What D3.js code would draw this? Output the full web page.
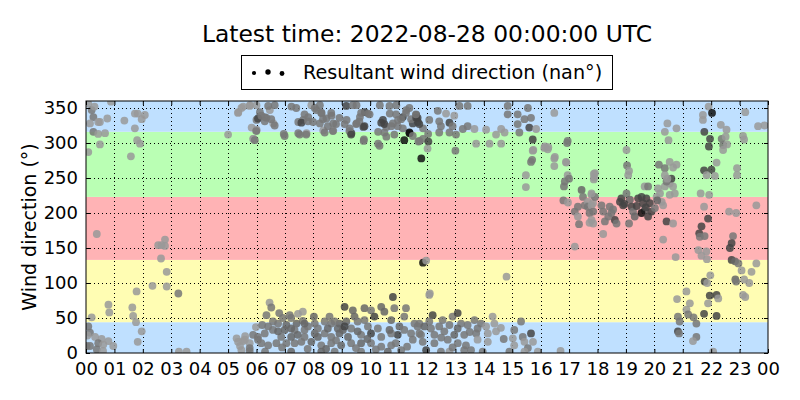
<!DOCTYPE html>
<html lang="en">
<head>
<meta charset="UTF-8">
<title>Wind direction</title>
<style>
  body { margin: 0; background: #fff; }
  svg { font-family: "DejaVu Sans", sans-serif; }
</style>
</head>
<body>
<div id="wrapper"></div>
<script src="https://cdn.jsdelivr.net/npm/d3@7"></script>
<script>
// readings: [hour of day, direction in degrees, wind speed (shown as grey)]
const nightPts = [
  [0.08,356,2],[0.2,347,4],[0.3,352,2],[0.26,337,4],[0.43,330,2],[0.49,330,2],[0.14,328,2],[0.26,316,4],
  [0.43,313,2],[0.67,314,2],[0.75,335,2],[0.49,298,2],[0.08,287,2],[0.88,359,2],[1.35,332,2],[1.72,342,2],
  [1.82,342,2],[2.07,340,2],[1.96,334,2],[1.72,321,2],[1.8,304,2],[1.9,299,2],[1.58,281,2],[0.38,170,2],
  [2.54,154,2],[2.66,154,2],[2.78,162,2],[2.78,153,2],[2.64,135,2],[2.84,116,2],[2.34,96,2],[2.84,95,2],
  [3.25,85,4],[1.78,88,2],[0.79,69,2],[0.82,58,2],[1.63,65,2],[1.66,53,2],[1.76,44,2],[1.96,31,2],
  [1.82,16,2],[0.2,51,2],[0.08,38,4],[0.14,29,4],[0.32,23,2],[0.55,20,2],[0.79,17,2],[0.43,14,4],
  [0.96,10,2],[0.14,10,4],[0.38,5,4],[3.27,2,2],[3.54,2,2],[0.02,10,4],[0.61,12,2],[0.05,25,2],[0.6,3,2]
];
const dawnPts = [
  [5.0,312,2],[5.36,344,2],[5.53,352,2],[5.77,354,2],[5.88,306,2],[5.83,322,2],[6.0,318,2],[5.98,37,2],
  [5.3,21,2],[5.53,17,2],[5.6,24,2],[5.76,14,2],[5.88,26,4],[5.42,10,2],[5.76,7,4],[6.05,19,4],
  [5.47,350,2],[5.76,353,2],[5.35,343,2],[5.59,19,2],[5.35,16,2],[5.47,4,2],[5.76,3,4]
];
const morningTop = [
  [6.0,354,2],[6.12,344,4],[6.0,333,4],[6.29,337,4],[6.47,347,2],[6.64,354,4],[6.59,328,2],[6.0,319,2],
  [5.9,306,2],[6.96,313,4],[7.23,352,4],[7.47,330,4],[7.64,333,4],[7.82,337,4],[7.93,354,2],[8.11,347,4],
  [8.29,343,4],[8.46,335,4],[8.64,339,4],[8.23,354,4],[7.47,314,4],[7.76,314,2],[8.35,318,2],[8.7,318,2],
  [8.23,328,4],[8.7,328,4],[9.17,333,4],[9.34,314,7],[9.52,354,4],[9.64,337,4],[9.81,344,7],[9.76,323,7],
  [9.93,342,4],[9.78,305,4],[9.52,328,4],[9.28,321,4],[10.34,354,4],[10.45,333,7],[10.57,323,4],[10.28,316,4],
  [10.57,309,4],[10.69,342,4],[10.8,328,4],[10.92,354,4],[10.98,333,4],[11.15,337,7],[11.15,321,4],[11.39,314,10],
  [11.2,304,10],[11.5,328,7],[11.68,330,7],[11.86,321,4],[11.8,278,10],[10.28,299,4],[11.27,347,4],[11.62,340,7],
  [11.86,306,4],[12.04,313,4],[6.05,335,7],[6.17,339,4],[6.35,336,4],[6.52,334,4],[5.99,317,4],[5.94,304,4],
  [6.64,325,4],[6.29,331,4],[6.41,353,4],[6.99,310,4],[7.4,350,4],[7.69,341,4],[7.58,329,7],[7.81,331,4],
  [7.99,330,4],[8.05,350,4],[8.28,343,4],[8.34,334,4],[8.51,324,4],[8.69,317,4],[8.4,315,4],[7.52,312,4],
  [7.75,312,4],[8.63,343,4],[8.8,327,4],[9.1,327,4],[8.92,336,4],[9.16,353,7],[9.39,354,4],[9.27,317,4],
  [9.33,312,7],[9.51,327,4],[9.68,343,4],[9.62,331,4],[9.8,324,7],[9.98,341,4],[9.77,303,4],[10.39,329,7],
  [10.68,353,4],[10.5,327,7],[10.74,324,4],[10.85,312,4],[10.91,341,4],[10.5,315,4],[10.33,296,4],[11.38,350,4],
  [11.26,343,4],[11.44,334,4],[11.62,336,7],[11.38,315,10],[11.5,310,4],[11.73,303,4],[10.97,324,4],[11.09,334,4],
  [11.86,129,10],[11.97,132,2]
];
const morningLow = [
  [6.46,72,2],[6.52,65,4],[6.8,57,4],[6.35,54,4],[7.17,54,4],[7.46,56,2],[7.63,59,2],[7.22,50,4],
  [6.93,50,4],[7.63,46,4],[6.58,45,4],[6.76,42,4],[7.41,42,5],[7.05,40,5],[8.02,52,5],[8.05,42,4],
  [7.81,38,4],[8.4,45,4],[8.63,42,4],[8.92,42,5],[9.1,66,7],[9.39,61,5],[9.45,52,5],[9.56,45,4],
  [9.8,64,5],[10.03,61,4],[10.39,66,5],[10.5,59,5],[10.8,80,7],[10.85,64,4],[11.26,64,4],[11.2,52,4],
  [10.15,52,7],[9.8,47,4],[10.74,47,5],[11.03,38,5],[10.97,26,7],[10.03,28,7],[9.04,33,5],[8.86,35,5],
  [8.4,28,4],[8.05,28,5],[7.69,33,4],[7.34,33,4],[6.99,33,5],[6.58,33,4],[6.29,28,4],[6.05,23,4],
  [6.17,14,4],[6.41,11,4],[6.7,14,4],[7.05,14,4],[7.34,14,4],[7.58,16,4],[7.93,16,5],[8.28,11,4],
  [8.63,14,4],[8.98,11,5],[9.33,14,4],[9.68,14,5],[10.03,14,4],[10.39,9,4],[10.74,11,4],[11.09,4,4],
  [11.5,19,4],[11.73,28,4],[11.56,42,4],[11.67,38,4],[7.22,2,5],[8.28,2,5],[8.75,2,4],[9.68,2,4],
  [10.62,2,5],[6.87,23,4],[7.22,23,5],[7.69,23,4],[8.16,23,5],[8.63,23,4],[9.22,23,5],[9.68,26,4],
  [10.39,23,4],[10.74,28,4],[11.44,28,4],[6.41,38,4],[6.76,31,5],[7.22,35,5],[8.16,35,4],[8.51,35,5],
  [8.92,28,5],[9.33,35,4],[9.56,31,5],[9.92,38,4],[10.27,35,4],[10.68,33,5],[11.2,33,4],[8.57,52,4],
  [7.69,42,5],[8.75,45,4],[9.16,45,5],[9.1,38,7],[6.2,40,4],[6.9,8,4],[7.8,6,4],[8.45,6,5],
  [9.5,7,4],[10.2,5,4],[10.9,14,4],[11.3,9,4],[6.3,2,4],[9.9,20,5],[8.8,18,4],[7.45,26,5]
];
const afternoonLow = [
  [12.08,83,2],[12.2,54,7],[12.08,45,4],[12.55,47,4],[12.9,52,4],[13.08,57,7],[13.2,42,4],[13.67,47,4],
  [13.9,42,4],[14.31,52,2],[14.37,42,2],[11.73,42,4],[11.91,38,5],[12.14,35,4],[12.43,38,4],[12.79,40,4],
  [13.08,35,5],[13.43,40,4],[13.78,35,4],[14.08,38,2],[14.43,31,2],[11.79,26,4],[12.26,26,4],[12.61,31,4],
  [12.96,26,5],[13.31,26,4],[13.73,28,4],[14.14,28,2],[11.85,16,4],[12.26,14,4],[12.73,19,4],[13.08,14,4],
  [13.37,11,4],[13.78,19,2],[14.14,16,2],[11.97,4,7],[12.49,2,4],[12.79,2,2],[13.31,4,4],[13.55,4,4],
  [13.96,2,4],[14.9,2,4],[15.31,45,4],[15.07,33,4],[15.02,21,2],[15.37,23,4],[15.66,28,7],[15.43,16,2],
  [15.73,16,2],[15.55,7,4],[15.07,11,2],[15.43,2,2],[15.9,2,2],[16.7,3,2],[14.8,109,2],[12.1,85,2],
  [12.5,22,4],[13.5,30,4],[14.6,36,2],[14.7,20,4],[12.9,8,4]
];
const afternoonTop = [
  [11.67,336,7],[11.73,327,7],[11.61,341,4],[12.08,333,4],[12.38,346,4],[12.67,342,2],[12.96,339,2],[12.43,331,4],
  [12.49,324,4],[12.79,329,7],[12.9,324,4],[12.43,315,4],[12.79,315,4],[13.02,312,4],[13.14,353,4],[13.43,353,4],
  [13.26,320,4],[13.43,324,4],[13.67,320,2],[14.08,319,2],[14.43,312,2],[14.61,320,2],[14.73,315,2],[14.84,341,4],
  [14.84,353,4],[15.19,341,4],[15.19,327,4],[15.25,315,4],[15.43,334,4],[15.55,350,4],[15.6,322,7],[15.66,336,4],
  [15.72,305,7],[15.84,320,2],[16.48,343,2],[11.7,302,4],[12.05,302,7],[12.02,292,2],[13.0,289,4],[13.73,299,2],
  [14.2,299,2],[14.61,299,2],[15.72,289,2],[16.13,293,2],[16.25,291,2],[16.93,300,4],[15.66,273,4],[16.48,278,2],
  [16.9,272,2],[15.48,254,2],[15.48,237,2],[15.74,290,2],[15.7,276,4],[16.15,295,2],[16.27,294,2],[16.5,280,2],
  [16.48,267,2],[16.89,273,2]
];
const eveningPts = [
  [16.95,254,2],[17.0,249,4],[16.85,245,4],[16.82,238,4],[16.95,303,4],[17.44,233,5],[17.87,256,2],[17.87,248,2],
  [16.8,218,4],[16.96,215,2],[17.2,202,4],[17.31,209,4],[17.49,223,4],[17.55,211,4],[17.66,216,2],[17.72,200,4],
  [17.31,195,2],[17.72,186,2],[17.35,184,4],[17.2,152,2],[17.66,209,4],[17.84,214,2],[17.79,226,2],[17.91,223,4],
  [17.79,211,2],[17.85,202,4],[17.79,190,2],[17.85,185,2],[18.14,211,4],[18.2,202,4],[18.26,188,4],[18.2,170,2],
  [18.43,209,4],[18.49,200,4],[18.61,190,7],[18.67,185,4],[18.38,195,4],[18.79,216,7],[18.84,221,7],[18.9,211,7],
  [19.02,228,4],[19.14,219,5],[19.2,209,7],[19.25,202,4],[19.11,185,4],[19.31,195,5],[19.43,221,7],[19.55,223,7],
  [19.6,214,7],[19.66,204,5],[19.55,200,10],[19.72,221,7],[19.84,214,7],[19.9,202,7],[19.78,195,7],[20.02,207,4],
  [20.08,223,2],[20.2,228,2],[20.26,216,2],[20.31,211,2],[20.43,188,7],[20.66,185,2],[20.31,162,2],[19.66,238,2],
  [19.78,238,4],[20.13,235,2],[20.37,238,2],[20.54,242,2],[20.6,249,7],[20.66,238,2],[20.72,228,2],[20.54,226,2],
  [20.43,245,4],[20.54,273,2],[20.66,265,2],[20.78,269,2],[20.37,264,4],[20.16,269,4],[20.37,254,2],[20.46,249,2],
  [19.02,290,2],[19.04,268,4],[19.11,260,2],[19.08,254,2],[17.91,257,2],[17.88,251,2],[17.79,228,2],[20.46,328,2],
  [20.37,316,2],[20.5,304,2],[20.78,321,2],[18.95,213,7],[19.38,210,7],[19.7,208,7],[18.55,205,4],[20.1,218,5]
];
const latePts = [
  [21.63,228,2],[21.93,226,2],[21.75,209,2],[21.89,192,7],[21.66,181,7],[21.58,171,7],[21.6,166,4],[21.77,167,4],
  [21.83,145,2],[21.55,147,2],[21.66,139,2],[21.85,134,2],[21.77,102,7],[21.97,111,2],[21.95,82,7],[22.19,83,7],
  [22.25,78,2],[22.19,53,7],[21.75,56,7],[21.13,88,2],[21.25,71,2],[21.13,62,2],[20.83,52,4],[20.89,45,4],
  [21.19,55,4],[21.38,51,4],[21.48,42,4],[20.8,77,2],[20.83,31,7],[20.87,28,4],[21.48,23,4],[21.36,17,2],
  [22.07,2,2],[21.91,352,2],[22.03,343,10],[21.71,340,2],[21.71,333,2],[22.34,326,2],[22.54,319,2],[21.76,316,7],
  [21.96,306,7],[21.92,295,7],[22.37,306,4],[22.42,297,4],[22.51,309,2],[22.56,298,2],[22.42,290,2],[22.19,272,2],
  [21.75,261,7],[22.01,262,7],[21.84,254,2],[22.13,253,2],[23.12,310,2],[23.16,305,2],[23.2,344,2],[22.91,264,2],
  [22.91,254,2],[23.59,211,2],[22.63,202,2],[22.88,200,2],[22.77,167,4],[22.72,157,7],[22.66,150,7],[22.72,133,7],
  [22.84,131,5],[22.96,128,4],[23.07,118,2],[22.85,105,5],[22.88,102,4],[23.16,105,2],[23.34,100,2],[23.42,116,2],
  [23.59,128,2],[23.12,83,2],[23.65,324,2],[23.88,325,2],[20.75,137,2],[21.86,100,2],[21.89,71,2],[23.2,80,2]
];

const hourLabels = ["00","01","02","03","04","05","06","07","08","09","10","11",
                    "12","13","14","15","16","17","18","19","20","21","22","23","00"];
const dirTicks = [0, 50, 100, 150, 200, 250, 300, 350];
// compass sectors drawn behind the points
const sectorEdges = [0, 44, 133, 223, 316, 360];
const sectorColors = ["#bfe0ff", "#fffdb3", "#ffb3b5", "#baffb4", "#bfe0ff"];

const width = 800, height = 400;
const plot = { left: 86, right: 768, top: 101, bottom: 353 };

const svg = d3.select('#wrapper').append('svg')
    .attr('width', width)
    .attr('height', height);

const x = d3.scaleLinear().domain([0, 24]).range([plot.left, plot.right]);
const y = d3.scaleLinear().domain([0, 360]).range([plot.bottom, plot.top]);
const grey = d3.scaleLinear().domain([0, 11]).range(["#bbbbbb", "#000000"]);

svg.append('clipPath').attr('id', 'clip')
  .append('rect')
    .attr('x', plot.left).attr('y', plot.top)
    .attr('width', plot.right - plot.left).attr('height', plot.bottom - plot.top);

// sectors
svg.append('g').selectAll('rect')
  .data(sectorColors)
  .enter().append('rect')
    .attr('x', plot.left)
    .attr('width', plot.right - plot.left)
    .attr('y', (d, i) => y(sectorEdges[i + 1]))
    .attr('height', (d, i) => y(sectorEdges[i]) - y(sectorEdges[i + 1]))
    .attr('fill', d => d);

// dotted grid
const grid = svg.append('g')
    .attr('stroke', '#000')
    .attr('stroke-width', 1)
    .attr('stroke-dasharray', '1,3');
grid.selectAll('.vg').data(d3.range(1, 24)).enter().append('line')
    .attr('x1', d => Math.round(x(d)) + 0.5).attr('x2', d => Math.round(x(d)) + 0.5)
    .attr('y1', plot.top).attr('y2', plot.bottom);
grid.selectAll('.hg').data(dirTicks.slice(1)).enter().append('line')
    .attr('y1', d => Math.round(y(d)) + 0.5).attr('y2', d => Math.round(y(d)) + 0.5)
    .attr('x1', plot.left).attr('x2', plot.right);

// points
const allPts = [].concat(nightPts, dawnPts, morningTop, morningLow, afternoonLow, afternoonTop, eveningPts, latePts);
svg.append('g')
    .attr('clip-path', 'url(#clip)')
  .selectAll('circle')
  .data(allPts)
  .enter().append('circle')
    .attr('cx', d => x(d[0]))
    .attr('cy', d => y(d[1]))
    .attr('r', 3.9)
    .attr('fill', d => grey(d[2]))
    .attr('fill-opacity', 0.85);

// axes, ticks pointing inward on all four sides
const fmtHour = i => hourLabels[i];
const xBottom = svg.append('g')
    .attr('transform', `translate(0,${plot.bottom})`)
    .call(d3.axisBottom(x).tickValues(d3.range(0, 25)).tickFormat(fmtHour).tickSizeInner(-4).tickSizeOuter(0).tickPadding(9));
const xTop = svg.append('g')
    .attr('transform', `translate(0,${plot.top})`)
    .call(d3.axisTop(x).tickValues(d3.range(0, 25)).tickFormat('').tickSizeInner(-4).tickSizeOuter(0));
const yLeft = svg.append('g')
    .attr('transform', `translate(${plot.left},0)`)
    .call(d3.axisLeft(y).tickValues(dirTicks).tickSizeInner(-4).tickSizeOuter(0).tickPadding(8));
const yRight = svg.append('g')
    .attr('transform', `translate(${plot.right},0)`)
    .call(d3.axisRight(y).tickValues(dirTicks).tickFormat('').tickSizeInner(-4).tickSizeOuter(0));

[xBottom, xTop, yLeft, yRight].forEach(g => {
  g.select('.domain').remove();
  g.selectAll('line').attr('stroke', '#000');
  g.selectAll('text')
    .attr('font-family', '"DejaVu Sans", sans-serif')
    .attr('font-size', '18px')
    .attr('fill', '#000');
});

// frame
svg.append('rect')
    .attr('x', plot.left).attr('y', plot.top)
    .attr('width', plot.right - plot.left).attr('height', plot.bottom - plot.top)
    .attr('fill', 'none')
    .attr('stroke', '#000')
    .attr('stroke-width', 1);

// labels
svg.append('text')
    .attr('x', (plot.left + plot.right) / 2)
    .attr('y', 42)
    .attr('text-anchor', 'middle')
    .attr('font-size', '23.4px')
    .text('Latest time: 2022-08-28 00:00:00 UTC');

svg.append('text')
    .attr('transform', `translate(36,${(plot.top + plot.bottom) / 2}) rotate(-90)`)
    .attr('text-anchor', 'middle')
    .attr('font-size', '19px')
    .text('Wind direction (°)');

// legend
const legend = svg.append('g');
legend.append('rect')
    .attr('x', 241.5).attr('y', 55.5)
    .attr('width', 371).attr('height', 34)
    .attr('fill', '#fff')
    .attr('stroke', '#000');
legend.selectAll('circle')
  .data([2.1, 2.7, 2.4])
  .enter().append('circle')
    .attr('cx', (d, i) => 254 + i * 14)
    .attr('cy', (d, i) => [73, 72, 73.5][i])
    .attr('r', d => d)
    .attr('fill', '#000');
legend.append('text')
    .attr('x', 303)
    .attr('y', 79)
    .attr('font-size', '19.2px')
    .text('Resultant wind direction (nan°)');
</script>
</body>
</html>
